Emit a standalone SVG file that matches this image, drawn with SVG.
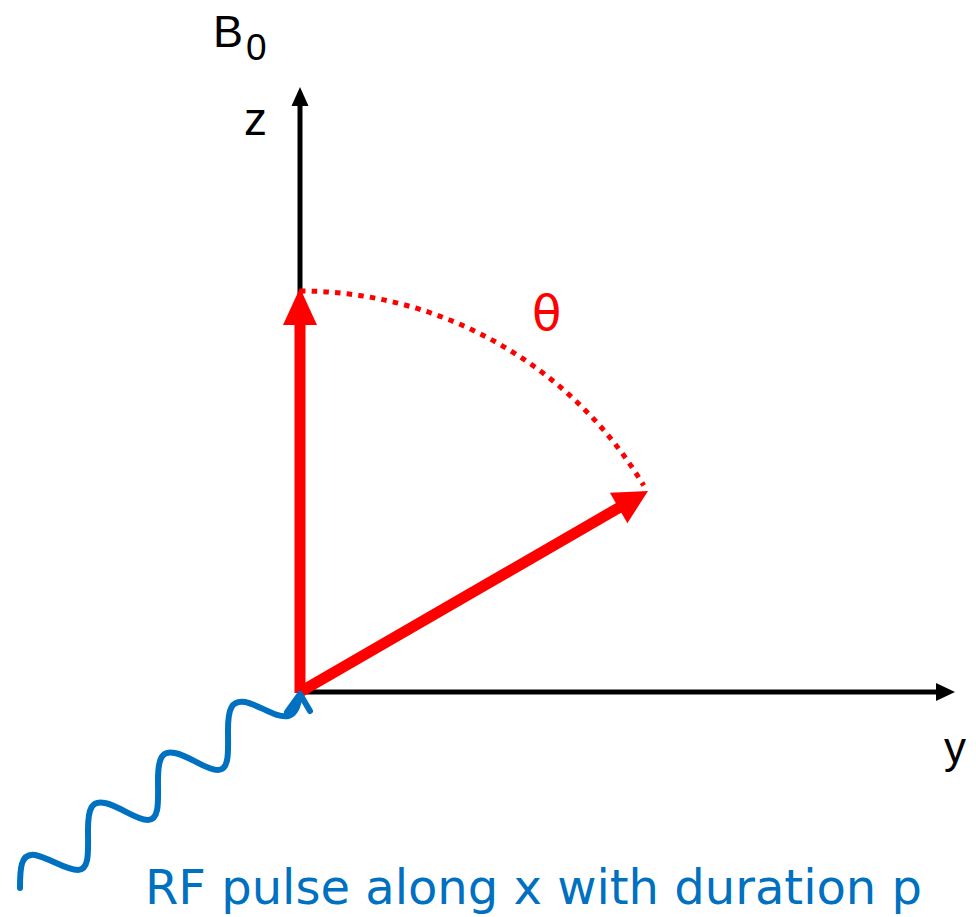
<svg xmlns="http://www.w3.org/2000/svg" width="976" height="917" viewBox="0 0 976 917">
<style>
.axis{stroke:#000;stroke-width:5;fill:none}
.red{stroke:#FF0000;stroke-width:11;fill:none}
.lbl{font-family:"Liberation Sans",Arial,sans-serif;fill:#000}
.wave{stroke:#0070C0;stroke-width:6;fill:none;stroke-linecap:round;stroke-linejoin:round}
</style>
<rect width="976" height="917" fill="#fff"/>
<g id="connectors">
<g id="z-axis">
<line class="axis" x1="300" y1="692" x2="300" y2="103"/>
<polygon points="300,87 291.5,106 308.5,106" fill="#000"/>
</g>
<g id="y-axis">
<line class="axis" x1="298" y1="692" x2="939" y2="692"/>
<polygon points="955,692 936,683 936,701" fill="#000"/>
</g>
<g id="vector-initial">
<line class="red" x1="300" y1="693" x2="300" y2="322"/>
<polygon points="300,288 283,325 317,325" fill="#FF0000"/>
</g>
<g id="vector-tilted">
<line class="red" x1="300" y1="692" x2="621" y2="506.5"/>
<polygon points="648,491 609.9,492.8 627.4,523.2" fill="#FF0000"/>
</g>
<path id="theta-arc" d="M300,291 A401,401 0 0 1 643.7,485.5" fill="none" stroke="#FF0000" stroke-width="5" stroke-dasharray="5.5 6.2"/>
<g id="rf-wave">
<path class="wave" d="M20,888 C20,870 20,853 35,855 C50,858 65,870 78,870 C90,870 88,850 88,830 C88,808 92,800 105,803 C120,806 135,820 148,820 C160,820 158,800 158,780 C158,758 162,750 175,753 C190,756 205,770 218,770 C230,770 228,750 228,730 C228,708 232,700 245,702 C260,705 275,718 288,716 C296,714 298,705 300,696"/>
<polyline class="wave" points="287,712 300,694 310,711"/>
</g>
</g>
<g id="label-B0">
<text class="lbl" x="213" y="47" font-size="45">B</text>
<text class="lbl" x="246" y="60" font-size="37">0</text>
</g>
<g id="label-z"><text class="lbl" x="244" y="135" font-size="46">z</text></g>
<g id="label-y"><text class="lbl" x="944" y="763" font-size="44">y</text></g>
<g id="label-theta"><text x="532" y="330" font-family="'DejaVu Sans',Verdana,sans-serif" font-size="48" fill="#FF0000">θ</text></g>
<g id="label-rf"><text x="145" y="904" font-family="'DejaVu Sans',Verdana,sans-serif" font-size="48" fill="#0070C0">RF pulse along x with duration p</text></g>
</svg>
